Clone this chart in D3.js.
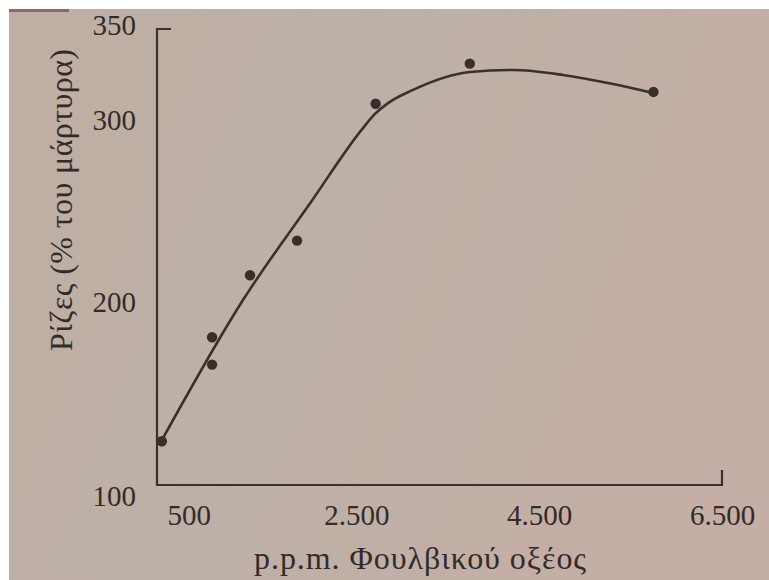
<!DOCTYPE html>
<html>
<head>
<meta charset="utf-8">
<script src="https://cdn.jsdelivr.net/npm/d3@7"></script>
<style>
  body { margin: 0; background: #fff; }
  svg { display: block; }
  text { font-family: "Liberation Serif", "DejaVu Serif", serif; fill: #342b28; }
</style>
</head>
<body>
<div id="chart"></div>
<script>
// measured points (p.p.m. fulvic acid, roots % of control)
const ppm = [370, 920, 920, 1335, 1850, 2710, 3740, 5750];
const roots = [124, 181, 166, 215, 234, 309, 331, 315.5];

// hand drawn fitted curve
const fitX = [372, 1258, 2000, 2560, 2700, 2850, 3119, 3742, 4213, 4760, 5307, 5745];
const fitY = [124.7, 201.4, 255, 295, 303.3, 309.5, 316.6, 326.4, 327.5, 324.8, 319.8, 314.9];

const xTicks = [500, 2500, 4500, 6500];
const yTicks = [100, 200, 300, 350];
const xTitle = "p.p.m. Φουλβικού οξέος";
const yTitle = "Ρίζες (% του μάρτυρα)";

const width = 769, height = 580;
const margin = {top: 29, right: 47, bottom: 95, left: 157};
const ink = "#3a302c";

const svg = d3.select("#chart").append("svg").attr("width", width).attr("height", height);

// paper background (photo of a book page)
const defs = svg.append("defs");
const grad = defs.append("linearGradient").attr("id", "paper").attr("x1", "0").attr("y1", "0").attr("x2", "1").attr("y2", "0.3");
grad.append("stop").attr("offset", "0").attr("stop-color", "#bfaea4");
grad.append("stop").attr("offset", "0.5").attr("stop-color", "#bdb1a7");
grad.append("stop").attr("offset", "1").attr("stop-color", "#c4aea5");
svg.append("rect").attr("width", width).attr("height", height).attr("fill", "url(#paper)");
svg.append("rect").attr("width", width).attr("height", 9).attr("fill", "#fff");
svg.append("rect").attr("width", 9).attr("height", height).attr("fill", "#fff");
svg.append("rect").attr("x", 9).attr("y", 9).attr("width", 60).attr("height", 3).attr("fill", "#5a4640").attr("opacity", 0.6);

//scales
const x = d3.scaleLinear().domain([350, 6500]).range([margin.left + 3, width - margin.right]);
const y = d3.scaleLinear().domain([100, 350]).range([height - margin.bottom, margin.top]);

//axes (labels only, no tick marks)
const xAxis = svg.append("g").attr("transform", `translate(0, ${y(100)})`)
    .call(d3.axisBottom(x).tickValues(xTicks).tickSize(0).tickPadding(19)
        .tickFormat(d => d3.format(",")(d).replace(",", ".")));
const yAxis = svg.append("g").attr("transform", `translate(${margin.left}, 0)`)
    .call(d3.axisLeft(y).tickValues(yTicks).tickSize(0).tickPadding(21));
[xAxis, yAxis].forEach(g => {
    g.select(".domain").remove();
    g.selectAll("text").style("font-size", "29px").attr("fill", "#342b28");
});
xAxis.selectAll("text").filter(d => d === 500).attr("dx", 15);
yAxis.selectAll("text").filter(d => d === 100).attr("dy", "0.7em");
yAxis.selectAll("text").filter(d => d === 350).attr("dy", "0.2em");

//axis frame: vertical line with top tick, horizontal line with end tick
const frame = d3.path();
frame.moveTo(margin.left + 14, y(350));
frame.lineTo(margin.left, y(350));
frame.lineTo(margin.left, y(100));
frame.lineTo(x(6500), y(100));
frame.lineTo(x(6500), y(100) - 15);
svg.append("path").attr("d", frame.toString()).attr("fill", "none")
    .attr("stroke", ink).attr("stroke-width", 2.2);

//fitted curve
const line = d3.line().x(d => x(d)).y((d, i) => y(fitY[i])).curve(d3.curveMonotoneX);
svg.append("path").attr("d", line(fitX)).attr("fill", "none")
    .attr("stroke", ink).attr("stroke-width", 2.6);

//points
svg.selectAll("circle.pt").data(ppm).enter().append("circle").attr("class", "pt")
    .attr("cx", d => x(d)).attr("cy", (d, i) => y(roots[i])).attr("r", 5.2).attr("fill", "#3a2e2a");

//titles
svg.append("text").attr("x", 420).attr("y", 569).attr("text-anchor", "middle")
    .style("font-size", "32px").attr("textLength", 332).attr("lengthAdjust", "spacing").text(xTitle);
svg.append("text").attr("transform", "translate(72, 200) rotate(-90)").attr("text-anchor", "middle")
    .style("font-size", "32px").attr("textLength", 302).attr("lengthAdjust", "spacing").text(yTitle);
</script>
</body>
</html>
